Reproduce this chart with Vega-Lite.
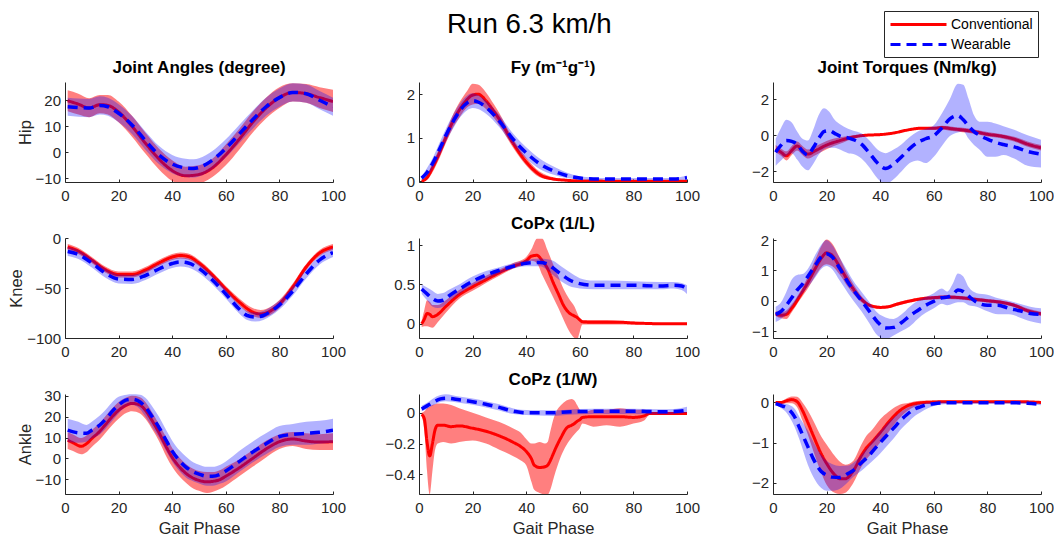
{
"$schema":"https://vega.github.io/schema/vega-lite/v6.json",
"background":"#ffffff",
"padding":{"left":8,"top":10,"right":0,"bottom":0},
"bounds":"flush",
"datasets":{
"hipA":[
{"s":"Conventional","phase":1,"mean":19.8,"lo":15.8,"hi":23.8},
{"s":"Conventional","phase":5,"mean":18.5,"lo":14.5,"hi":22.5},
{"s":"Conventional","phase":9,"mean":17,"lo":13.5,"hi":20.8},
{"s":"Conventional","phase":13,"mean":18.3,"lo":15,"hi":22},
{"s":"Conventional","phase":16,"mean":18,"lo":14.5,"hi":22},
{"s":"Conventional","phase":20,"mean":15.5,"lo":11.5,"hi":19.5},
{"s":"Conventional","phase":25,"mean":10,"lo":6,"hi":14},
{"s":"Conventional","phase":30,"mean":3.5,"lo":-0.5,"hi":7.5},
{"s":"Conventional","phase":35,"mean":-2.5,"lo":-6.5,"hi":1.5},
{"s":"Conventional","phase":40,"mean":-7,"lo":-11,"hi":-3},
{"s":"Conventional","phase":45,"mean":-9,"lo":-12.5,"hi":-5.5},
{"s":"Conventional","phase":50,"mean":-8.5,"lo":-12,"hi":-5},
{"s":"Conventional","phase":55,"mean":-6,"lo":-9.5,"hi":-2.5},
{"s":"Conventional","phase":60,"mean":-1,"lo":-5,"hi":3},
{"s":"Conventional","phase":65,"mean":5,"lo":1,"hi":9},
{"s":"Conventional","phase":70,"mean":11.5,"lo":7.5,"hi":15.5},
{"s":"Conventional","phase":75,"mean":17,"lo":13,"hi":21},
{"s":"Conventional","phase":80,"mean":21,"lo":17,"hi":25},
{"s":"Conventional","phase":85,"mean":23,"lo":19.5,"hi":26.5},
{"s":"Conventional","phase":90,"mean":22.5,"lo":19,"hi":26.2},
{"s":"Conventional","phase":95,"mean":21,"lo":17,"hi":25},
{"s":"Conventional","phase":100,"mean":19.5,"lo":15.5,"hi":24},
{"s":"Wearable","phase":1,"mean":17.5,"lo":14,"hi":21},
{"s":"Wearable","phase":5,"mean":17.2,"lo":13.7,"hi":20.7},
{"s":"Wearable","phase":9,"mean":17,"lo":13.5,"hi":20.5},
{"s":"Wearable","phase":13,"mean":18,"lo":14.5,"hi":21.5},
{"s":"Wearable","phase":16,"mean":17.5,"lo":14,"hi":21},
{"s":"Wearable","phase":20,"mean":15,"lo":11.5,"hi":18.5},
{"s":"Wearable","phase":25,"mean":10.5,"lo":7,"hi":14},
{"s":"Wearable","phase":30,"mean":4.5,"lo":1,"hi":8},
{"s":"Wearable","phase":35,"mean":-1,"lo":-4.5,"hi":2.5},
{"s":"Wearable","phase":40,"mean":-4.5,"lo":-8,"hi":-1},
{"s":"Wearable","phase":45,"mean":-6,"lo":-9.5,"hi":-2.5},
{"s":"Wearable","phase":48,"mean":-6.2,"lo":-9.7,"hi":-2.7},
{"s":"Wearable","phase":50,"mean":-5.8,"lo":-9.3,"hi":-2.3},
{"s":"Wearable","phase":55,"mean":-3,"lo":-6.5,"hi":0.5},
{"s":"Wearable","phase":60,"mean":1.5,"lo":-2,"hi":5},
{"s":"Wearable","phase":65,"mean":7,"lo":3.5,"hi":10.5},
{"s":"Wearable","phase":70,"mean":12.5,"lo":9,"hi":16},
{"s":"Wearable","phase":75,"mean":17.5,"lo":14,"hi":21},
{"s":"Wearable","phase":80,"mean":21,"lo":17.5,"hi":24.5},
{"s":"Wearable","phase":85,"mean":23,"lo":19.5,"hi":26.5},
{"s":"Wearable","phase":90,"mean":22.5,"lo":19,"hi":26},
{"s":"Wearable","phase":95,"mean":20,"lo":16.5,"hi":23.5},
{"s":"Wearable","phase":100,"mean":17.5,"lo":14,"hi":21}
],
"fy":[
{"s":"Conventional","phase":1,"mean":0,"lo":-0.015,"hi":0.02},
{"s":"Conventional","phase":3,"mean":0.08,"lo":0.03,"hi":0.13},
{"s":"Conventional","phase":5,"mean":0.3,"lo":0.2,"hi":0.4},
{"s":"Conventional","phase":8,"mean":0.7,"lo":0.58,"hi":0.82},
{"s":"Conventional","phase":10,"mean":1,"lo":0.87,"hi":1.13},
{"s":"Conventional","phase":13,"mean":1.42,"lo":1.27,"hi":1.57},
{"s":"Conventional","phase":15,"mean":1.63,"lo":1.46,"hi":1.8},
{"s":"Conventional","phase":18,"mean":1.88,"lo":1.7,"hi":2.08},
{"s":"Conventional","phase":20,"mean":1.98,"lo":1.76,"hi":2.24},
{"s":"Conventional","phase":22,"mean":2,"lo":1.78,"hi":2.22},
{"s":"Conventional","phase":25,"mean":1.85,"lo":1.66,"hi":2.04},
{"s":"Conventional","phase":28,"mean":1.6,"lo":1.45,"hi":1.76},
{"s":"Conventional","phase":30,"mean":1.42,"lo":1.28,"hi":1.56},
{"s":"Conventional","phase":35,"mean":0.88,"lo":0.78,"hi":0.98},
{"s":"Conventional","phase":40,"mean":0.44,"lo":0.36,"hi":0.54},
{"s":"Conventional","phase":45,"mean":0.15,"lo":0.09,"hi":0.22},
{"s":"Conventional","phase":50,"mean":0.05,"lo":0.02,"hi":0.09},
{"s":"Conventional","phase":55,"mean":0.02,"lo":0,"hi":0.04},
{"s":"Conventional","phase":60,"mean":0.005,"lo":-0.005,"hi":0.015},
{"s":"Conventional","phase":70,"mean":0,"lo":-0.01,"hi":0.01},
{"s":"Conventional","phase":80,"mean":0,"lo":-0.01,"hi":0.01},
{"s":"Conventional","phase":90,"mean":0,"lo":-0.01,"hi":0.01},
{"s":"Conventional","phase":100,"mean":0,"lo":-0.01,"hi":0.01},
{"s":"Wearable","phase":1,"mean":0.07,"lo":0.03,"hi":0.11},
{"s":"Wearable","phase":3,"mean":0.2,"lo":0.12,"hi":0.3},
{"s":"Wearable","phase":5,"mean":0.4,"lo":0.28,"hi":0.52},
{"s":"Wearable","phase":8,"mean":0.78,"lo":0.63,"hi":0.93},
{"s":"Wearable","phase":10,"mean":1.05,"lo":0.9,"hi":1.2},
{"s":"Wearable","phase":13,"mean":1.4,"lo":1.24,"hi":1.56},
{"s":"Wearable","phase":15,"mean":1.6,"lo":1.44,"hi":1.76},
{"s":"Wearable","phase":18,"mean":1.8,"lo":1.63,"hi":1.97},
{"s":"Wearable","phase":20,"mean":1.85,"lo":1.68,"hi":2.02},
{"s":"Wearable","phase":22,"mean":1.82,"lo":1.66,"hi":1.98},
{"s":"Wearable","phase":25,"mean":1.7,"lo":1.55,"hi":1.85},
{"s":"Wearable","phase":30,"mean":1.38,"lo":1.24,"hi":1.52},
{"s":"Wearable","phase":35,"mean":0.97,"lo":0.84,"hi":1.1},
{"s":"Wearable","phase":40,"mean":0.65,"lo":0.52,"hi":0.78},
{"s":"Wearable","phase":45,"mean":0.4,"lo":0.28,"hi":0.52},
{"s":"Wearable","phase":50,"mean":0.24,"lo":0.15,"hi":0.34},
{"s":"Wearable","phase":55,"mean":0.13,"lo":0.07,"hi":0.2},
{"s":"Wearable","phase":60,"mean":0.07,"lo":0.04,"hi":0.11},
{"s":"Wearable","phase":65,"mean":0.05,"lo":0.03,"hi":0.08},
{"s":"Wearable","phase":70,"mean":0.05,"lo":0.03,"hi":0.07},
{"s":"Wearable","phase":80,"mean":0.05,"lo":0.03,"hi":0.07},
{"s":"Wearable","phase":90,"mean":0.05,"lo":0.03,"hi":0.07},
{"s":"Wearable","phase":95,"mean":0.05,"lo":0.03,"hi":0.07},
{"s":"Wearable","phase":98,"mean":0.06,"lo":0.03,"hi":0.1},
{"s":"Wearable","phase":100,"mean":0.08,"lo":0.04,"hi":0.13}
],
"hipT":[
{"s":"Conventional","phase":1,"mean":-0.75,"lo":-0.95,"hi":-0.55},
{"s":"Conventional","phase":3,"mean":-0.95,"lo":-1.15,"hi":-0.75},
{"s":"Conventional","phase":5,"mean":-1.15,"lo":-1.4,"hi":-0.9},
{"s":"Conventional","phase":7,"mean":-0.85,"lo":-1.1,"hi":-0.6},
{"s":"Conventional","phase":9,"mean":-0.6,"lo":-0.85,"hi":-0.35},
{"s":"Conventional","phase":11,"mean":-0.85,"lo":-1.1,"hi":-0.6},
{"s":"Conventional","phase":13,"mean":-1.05,"lo":-1.3,"hi":-0.8},
{"s":"Conventional","phase":16,"mean":-0.85,"lo":-1.1,"hi":-0.6},
{"s":"Conventional","phase":20,"mean":-0.55,"lo":-0.78,"hi":-0.32},
{"s":"Conventional","phase":25,"mean":-0.3,"lo":-0.48,"hi":-0.12},
{"s":"Conventional","phase":30,"mean":-0.1,"lo":-0.2,"hi":0},
{"s":"Conventional","phase":35,"mean":0,"lo":-0.05,"hi":0.05},
{"s":"Conventional","phase":40,"mean":0.03,"lo":-0.02,"hi":0.08},
{"s":"Conventional","phase":45,"mean":0.12,"lo":0.07,"hi":0.17},
{"s":"Conventional","phase":50,"mean":0.28,"lo":0.23,"hi":0.33},
{"s":"Conventional","phase":55,"mean":0.38,"lo":0.32,"hi":0.44},
{"s":"Conventional","phase":60,"mean":0.38,"lo":0.3,"hi":0.46},
{"s":"Conventional","phase":63,"mean":0.42,"lo":0.32,"hi":0.52},
{"s":"Conventional","phase":67,"mean":0.35,"lo":0.23,"hi":0.47},
{"s":"Conventional","phase":70,"mean":0.3,"lo":0.18,"hi":0.42},
{"s":"Conventional","phase":75,"mean":0.2,"lo":0.08,"hi":0.32},
{"s":"Conventional","phase":80,"mean":0.05,"lo":-0.07,"hi":0.17},
{"s":"Conventional","phase":85,"mean":-0.05,"lo":-0.17,"hi":0.07},
{"s":"Conventional","phase":90,"mean":-0.22,"lo":-0.35,"hi":-0.09},
{"s":"Conventional","phase":95,"mean":-0.5,"lo":-0.65,"hi":-0.35},
{"s":"Conventional","phase":100,"mean":-0.7,"lo":-0.85,"hi":-0.55},
{"s":"Wearable","phase":1,"mean":-0.95,"lo":-1.7,"hi":-0.2},
{"s":"Wearable","phase":3,"mean":-0.55,"lo":-1.4,"hi":0.4},
{"s":"Wearable","phase":5,"mean":-0.3,"lo":-1.15,"hi":0.85},
{"s":"Wearable","phase":7,"mean":-0.35,"lo":-1,"hi":0.7},
{"s":"Wearable","phase":9,"mean":-0.5,"lo":-1.35,"hi":0.2},
{"s":"Wearable","phase":11,"mean":-0.9,"lo":-1.75,"hi":-0.2},
{"s":"Wearable","phase":13,"mean":-1.1,"lo":-1.95,"hi":-0.3},
{"s":"Wearable","phase":15,"mean":-0.7,"lo":-1.6,"hi":0.3},
{"s":"Wearable","phase":17,"mean":-0.2,"lo":-1.1,"hi":1.1},
{"s":"Wearable","phase":19,"mean":0.2,"lo":-0.8,"hi":1.5},
{"s":"Wearable","phase":21,"mean":0.25,"lo":-0.7,"hi":1.3},
{"s":"Wearable","phase":23,"mean":0.1,"lo":-0.7,"hi":0.85},
{"s":"Wearable","phase":25,"mean":-0.05,"lo":-0.8,"hi":0.6},
{"s":"Wearable","phase":28,"mean":-0.15,"lo":-1,"hi":0.35},
{"s":"Wearable","phase":30,"mean":-0.25,"lo":-1.05,"hi":0.25},
{"s":"Wearable","phase":33,"mean":-0.5,"lo":-1.3,"hi":0.1},
{"s":"Wearable","phase":36,"mean":-1,"lo":-1.8,"hi":-0.3},
{"s":"Wearable","phase":39,"mean":-1.55,"lo":-2.4,"hi":-0.8},
{"s":"Wearable","phase":42,"mean":-1.85,"lo":-2.7,"hi":-1},
{"s":"Wearable","phase":45,"mean":-1.6,"lo":-2.45,"hi":-0.8},
{"s":"Wearable","phase":48,"mean":-1.2,"lo":-2,"hi":-0.5},
{"s":"Wearable","phase":51,"mean":-0.75,"lo":-1.55,"hi":-0.1},
{"s":"Wearable","phase":54,"mean":-0.4,"lo":-1.4,"hi":0.2},
{"s":"Wearable","phase":57,"mean":-0.2,"lo":-1.55,"hi":0.35},
{"s":"Wearable","phase":60,"mean":-0.03,"lo":-1.2,"hi":0.55},
{"s":"Wearable","phase":63,"mean":0.4,"lo":-0.6,"hi":1.2},
{"s":"Wearable","phase":66,"mean":0.9,"lo":-0.05,"hi":2},
{"s":"Wearable","phase":69,"mean":1.08,"lo":0.15,"hi":2.85},
{"s":"Wearable","phase":71,"mean":0.85,"lo":0.2,"hi":2.8},
{"s":"Wearable","phase":73,"mean":0.5,"lo":-0.2,"hi":2},
{"s":"Wearable","phase":75,"mean":0.2,"lo":-0.55,"hi":1.1},
{"s":"Wearable","phase":77,"mean":0,"lo":-0.8,"hi":0.75},
{"s":"Wearable","phase":80,"mean":-0.22,"lo":-1.2,"hi":0.75},
{"s":"Wearable","phase":83,"mean":-0.4,"lo":-1.2,"hi":0.65},
{"s":"Wearable","phase":86,"mean":-0.52,"lo":-1.1,"hi":0.5},
{"s":"Wearable","phase":90,"mean":-0.65,"lo":-1.3,"hi":0.3},
{"s":"Wearable","phase":95,"mean":-0.9,"lo":-1.7,"hi":0},
{"s":"Wearable","phase":100,"mean":-1.05,"lo":-1.8,"hi":-0.25}
],
"kneeA":[
{"s":"Conventional","phase":1,"mean":-9,"lo":-12,"hi":-6},
{"s":"Conventional","phase":5,"mean":-13,"lo":-16,"hi":-10},
{"s":"Conventional","phase":10,"mean":-22,"lo":-25,"hi":-19},
{"s":"Conventional","phase":15,"mean":-31.5,"lo":-34.5,"hi":-28.5},
{"s":"Conventional","phase":20,"mean":-36.5,"lo":-39.5,"hi":-33.5},
{"s":"Conventional","phase":25,"mean":-36.5,"lo":-39.5,"hi":-33.5},
{"s":"Conventional","phase":30,"mean":-32,"lo":-35,"hi":-29},
{"s":"Conventional","phase":35,"mean":-25,"lo":-28,"hi":-22},
{"s":"Conventional","phase":40,"mean":-19,"lo":-22,"hi":-16},
{"s":"Conventional","phase":43,"mean":-17.5,"lo":-20.5,"hi":-14.5},
{"s":"Conventional","phase":46,"mean":-18.5,"lo":-21.5,"hi":-15.5},
{"s":"Conventional","phase":50,"mean":-25,"lo":-28,"hi":-22},
{"s":"Conventional","phase":55,"mean":-37,"lo":-40,"hi":-34},
{"s":"Conventional","phase":60,"mean":-51,"lo":-54,"hi":-48},
{"s":"Conventional","phase":65,"mean":-64,"lo":-67.5,"hi":-60.5},
{"s":"Conventional","phase":70,"mean":-74,"lo":-78,"hi":-70},
{"s":"Conventional","phase":73,"mean":-76,"lo":-80,"hi":-72},
{"s":"Conventional","phase":75,"mean":-75,"lo":-79,"hi":-71},
{"s":"Conventional","phase":80,"mean":-66,"lo":-70,"hi":-62},
{"s":"Conventional","phase":85,"mean":-49,"lo":-52.5,"hi":-45.5},
{"s":"Conventional","phase":90,"mean":-29,"lo":-32,"hi":-26},
{"s":"Conventional","phase":95,"mean":-15,"lo":-18,"hi":-12},
{"s":"Conventional","phase":100,"mean":-9,"lo":-12,"hi":-6},
{"s":"Wearable","phase":1,"mean":-13.5,"lo":-18,"hi":-9},
{"s":"Wearable","phase":5,"mean":-16.5,"lo":-21,"hi":-12},
{"s":"Wearable","phase":10,"mean":-25,"lo":-29.5,"hi":-20.5},
{"s":"Wearable","phase":15,"mean":-35,"lo":-39.5,"hi":-30.5},
{"s":"Wearable","phase":20,"mean":-41,"lo":-45.5,"hi":-36.5},
{"s":"Wearable","phase":25,"mean":-41.5,"lo":-46,"hi":-37},
{"s":"Wearable","phase":30,"mean":-37.5,"lo":-42,"hi":-33},
{"s":"Wearable","phase":35,"mean":-31,"lo":-35.5,"hi":-26.5},
{"s":"Wearable","phase":40,"mean":-25.5,"lo":-30,"hi":-21},
{"s":"Wearable","phase":43,"mean":-24,"lo":-28.5,"hi":-19.5},
{"s":"Wearable","phase":46,"mean":-25,"lo":-29.5,"hi":-20.5},
{"s":"Wearable","phase":50,"mean":-30.5,"lo":-35,"hi":-26},
{"s":"Wearable","phase":55,"mean":-42,"lo":-46.5,"hi":-37.5},
{"s":"Wearable","phase":60,"mean":-56,"lo":-60.5,"hi":-51.5},
{"s":"Wearable","phase":65,"mean":-71,"lo":-75.5,"hi":-66.5},
{"s":"Wearable","phase":68,"mean":-77.5,"lo":-82,"hi":-73},
{"s":"Wearable","phase":71,"mean":-79,"lo":-83.5,"hi":-74.5},
{"s":"Wearable","phase":74,"mean":-77.5,"lo":-82,"hi":-73},
{"s":"Wearable","phase":77,"mean":-73,"lo":-77.5,"hi":-68.5},
{"s":"Wearable","phase":80,"mean":-67,"lo":-71.5,"hi":-62.5},
{"s":"Wearable","phase":85,"mean":-53,"lo":-57.5,"hi":-48.5},
{"s":"Wearable","phase":90,"mean":-36,"lo":-40.5,"hi":-31.5},
{"s":"Wearable","phase":95,"mean":-22,"lo":-26.5,"hi":-17.5},
{"s":"Wearable","phase":100,"mean":-14.5,"lo":-19,"hi":-10}
],
"copx":[
{"s":"Conventional","phase":1,"mean":0,"lo":-0.04,"hi":0.04},
{"s":"Conventional","phase":2,"mean":0.06,"lo":-0.03,"hi":0.18},
{"s":"Conventional","phase":3,"mean":0.13,"lo":-0.03,"hi":0.3},
{"s":"Conventional","phase":4,"mean":0.12,"lo":-0.04,"hi":0.28},
{"s":"Conventional","phase":5,"mean":0.09,"lo":-0.05,"hi":0.24},
{"s":"Conventional","phase":7,"mean":0.12,"lo":0.02,"hi":0.24},
{"s":"Conventional","phase":10,"mean":0.22,"lo":0.14,"hi":0.3},
{"s":"Conventional","phase":15,"mean":0.37,"lo":0.32,"hi":0.43},
{"s":"Conventional","phase":20,"mean":0.47,"lo":0.42,"hi":0.52},
{"s":"Conventional","phase":25,"mean":0.56,"lo":0.52,"hi":0.61},
{"s":"Conventional","phase":30,"mean":0.65,"lo":0.61,"hi":0.69},
{"s":"Conventional","phase":35,"mean":0.73,"lo":0.7,"hi":0.77},
{"s":"Conventional","phase":40,"mean":0.8,"lo":0.76,"hi":0.85},
{"s":"Conventional","phase":42,"mean":0.86,"lo":0.8,"hi":0.95},
{"s":"Conventional","phase":44,"mean":0.87,"lo":0.77,"hi":1.08},
{"s":"Conventional","phase":46,"mean":0.8,"lo":0.62,"hi":1.08},
{"s":"Conventional","phase":48,"mean":0.7,"lo":0.48,"hi":0.93},
{"s":"Conventional","phase":50,"mean":0.53,"lo":0.34,"hi":0.76},
{"s":"Conventional","phase":52,"mean":0.38,"lo":0.2,"hi":0.6},
{"s":"Conventional","phase":54,"mean":0.23,"lo":0.05,"hi":0.44},
{"s":"Conventional","phase":56,"mean":0.14,"lo":-0.09,"hi":0.32},
{"s":"Conventional","phase":58,"mean":0.1,"lo":-0.18,"hi":0.22},
{"s":"Conventional","phase":59,"mean":0.08,"lo":-0.2,"hi":0.14},
{"s":"Conventional","phase":60,"mean":0.05,"lo":-0.1,"hi":0.07},
{"s":"Conventional","phase":61,"mean":0.025,"lo":-0.01,"hi":0.05},
{"s":"Conventional","phase":65,"mean":0.02,"lo":-0.01,"hi":0.05},
{"s":"Conventional","phase":70,"mean":0.02,"lo":-0.01,"hi":0.05},
{"s":"Conventional","phase":75,"mean":0.02,"lo":-0.01,"hi":0.04},
{"s":"Conventional","phase":80,"mean":0.01,"lo":-0.01,"hi":0.03},
{"s":"Conventional","phase":85,"mean":0.005,"lo":-0.01,"hi":0.02},
{"s":"Conventional","phase":90,"mean":0,"lo":-0.01,"hi":0.01},
{"s":"Conventional","phase":95,"mean":0,"lo":-0.01,"hi":0.01},
{"s":"Conventional","phase":100,"mean":0,"lo":-0.01,"hi":0.01},
{"s":"Wearable","phase":1,"mean":0.44,"lo":0.38,"hi":0.5},
{"s":"Wearable","phase":3,"mean":0.38,"lo":0.3,"hi":0.46},
{"s":"Wearable","phase":5,"mean":0.32,"lo":0.22,"hi":0.42},
{"s":"Wearable","phase":7,"mean":0.29,"lo":0.2,"hi":0.38},
{"s":"Wearable","phase":9,"mean":0.3,"lo":0.22,"hi":0.39},
{"s":"Wearable","phase":11,"mean":0.35,"lo":0.28,"hi":0.43},
{"s":"Wearable","phase":15,"mean":0.44,"lo":0.38,"hi":0.5},
{"s":"Wearable","phase":20,"mean":0.54,"lo":0.49,"hi":0.6},
{"s":"Wearable","phase":25,"mean":0.62,"lo":0.57,"hi":0.67},
{"s":"Wearable","phase":30,"mean":0.68,"lo":0.64,"hi":0.72},
{"s":"Wearable","phase":35,"mean":0.73,"lo":0.7,"hi":0.77},
{"s":"Wearable","phase":40,"mean":0.77,"lo":0.73,"hi":0.81},
{"s":"Wearable","phase":45,"mean":0.78,"lo":0.73,"hi":0.83},
{"s":"Wearable","phase":48,"mean":0.76,"lo":0.68,"hi":0.82},
{"s":"Wearable","phase":50,"mean":0.71,"lo":0.62,"hi":0.8},
{"s":"Wearable","phase":53,"mean":0.63,"lo":0.54,"hi":0.73},
{"s":"Wearable","phase":56,"mean":0.56,"lo":0.48,"hi":0.66},
{"s":"Wearable","phase":60,"mean":0.51,"lo":0.45,"hi":0.58},
{"s":"Wearable","phase":65,"mean":0.49,"lo":0.44,"hi":0.55},
{"s":"Wearable","phase":70,"mean":0.49,"lo":0.44,"hi":0.55},
{"s":"Wearable","phase":80,"mean":0.49,"lo":0.44,"hi":0.54},
{"s":"Wearable","phase":90,"mean":0.48,"lo":0.44,"hi":0.53},
{"s":"Wearable","phase":95,"mean":0.49,"lo":0.45,"hi":0.53},
{"s":"Wearable","phase":98,"mean":0.48,"lo":0.43,"hi":0.52},
{"s":"Wearable","phase":100,"mean":0.44,"lo":0.38,"hi":0.49}
],
"kneeT":[
{"s":"Conventional","phase":1,"mean":-0.43,"lo":-0.5,"hi":-0.35},
{"s":"Conventional","phase":3,"mean":-0.48,"lo":-0.58,"hi":-0.38},
{"s":"Conventional","phase":5,"mean":-0.45,"lo":-0.6,"hi":-0.32},
{"s":"Conventional","phase":7,"mean":-0.25,"lo":-0.38,"hi":-0.12},
{"s":"Conventional","phase":10,"mean":0.15,"lo":0.02,"hi":0.28},
{"s":"Conventional","phase":13,"mean":0.6,"lo":0.4,"hi":0.8},
{"s":"Conventional","phase":16,"mean":1.1,"lo":0.85,"hi":1.4},
{"s":"Conventional","phase":18,"mean":1.4,"lo":1.1,"hi":1.8},
{"s":"Conventional","phase":20,"mean":1.58,"lo":1.2,"hi":2.02},
{"s":"Conventional","phase":22,"mean":1.5,"lo":1.15,"hi":1.9},
{"s":"Conventional","phase":25,"mean":1.1,"lo":0.85,"hi":1.4},
{"s":"Conventional","phase":28,"mean":0.65,"lo":0.45,"hi":0.85},
{"s":"Conventional","phase":30,"mean":0.38,"lo":0.22,"hi":0.54},
{"s":"Conventional","phase":33,"mean":0.05,"lo":-0.05,"hi":0.15},
{"s":"Conventional","phase":35,"mean":-0.1,"lo":-0.17,"hi":-0.03},
{"s":"Conventional","phase":38,"mean":-0.2,"lo":-0.25,"hi":-0.15},
{"s":"Conventional","phase":40,"mean":-0.22,"lo":-0.27,"hi":-0.17},
{"s":"Conventional","phase":43,"mean":-0.2,"lo":-0.25,"hi":-0.15},
{"s":"Conventional","phase":46,"mean":-0.12,"lo":-0.17,"hi":-0.07},
{"s":"Conventional","phase":50,"mean":-0.03,"lo":-0.08,"hi":0.02},
{"s":"Conventional","phase":55,"mean":0.06,"lo":0.01,"hi":0.11},
{"s":"Conventional","phase":60,"mean":0.1,"lo":0.04,"hi":0.16},
{"s":"Conventional","phase":65,"mean":0.12,"lo":0.06,"hi":0.18},
{"s":"Conventional","phase":70,"mean":0.1,"lo":0.04,"hi":0.16},
{"s":"Conventional","phase":75,"mean":0.05,"lo":-0.01,"hi":0.11},
{"s":"Conventional","phase":80,"mean":0,"lo":-0.06,"hi":0.06},
{"s":"Conventional","phase":85,"mean":-0.05,"lo":-0.11,"hi":0.01},
{"s":"Conventional","phase":90,"mean":-0.15,"lo":-0.21,"hi":-0.09},
{"s":"Conventional","phase":95,"mean":-0.33,"lo":-0.4,"hi":-0.26},
{"s":"Conventional","phase":100,"mean":-0.43,"lo":-0.5,"hi":-0.36},
{"s":"Wearable","phase":1,"mean":-0.45,"lo":-0.7,"hi":-0.2},
{"s":"Wearable","phase":3,"mean":-0.35,"lo":-0.6,"hi":-0.05},
{"s":"Wearable","phase":5,"mean":-0.15,"lo":-0.45,"hi":0.3},
{"s":"Wearable","phase":7,"mean":0.1,"lo":-0.2,"hi":0.7},
{"s":"Wearable","phase":9,"mean":0.35,"lo":0.05,"hi":0.85},
{"s":"Wearable","phase":11,"mean":0.55,"lo":0.25,"hi":0.88},
{"s":"Wearable","phase":13,"mean":0.8,"lo":0.45,"hi":1.05},
{"s":"Wearable","phase":16,"mean":1.2,"lo":0.8,"hi":1.55},
{"s":"Wearable","phase":18,"mean":1.45,"lo":1.05,"hi":1.85},
{"s":"Wearable","phase":20,"mean":1.55,"lo":1.15,"hi":2},
{"s":"Wearable","phase":22,"mean":1.45,"lo":1.05,"hi":1.85},
{"s":"Wearable","phase":25,"mean":1.05,"lo":0.65,"hi":1.4},
{"s":"Wearable","phase":28,"mean":0.6,"lo":0.25,"hi":0.95},
{"s":"Wearable","phase":30,"mean":0.35,"lo":0,"hi":0.65},
{"s":"Wearable","phase":33,"mean":0,"lo":-0.35,"hi":0.3},
{"s":"Wearable","phase":36,"mean":-0.35,"lo":-0.75,"hi":-0.05},
{"s":"Wearable","phase":39,"mean":-0.7,"lo":-1.15,"hi":-0.4},
{"s":"Wearable","phase":42,"mean":-0.9,"lo":-1.27,"hi":-0.55},
{"s":"Wearable","phase":45,"mean":-0.88,"lo":-1.15,"hi":-0.6},
{"s":"Wearable","phase":48,"mean":-0.72,"lo":-1,"hi":-0.45},
{"s":"Wearable","phase":51,"mean":-0.5,"lo":-0.85,"hi":-0.2},
{"s":"Wearable","phase":54,"mean":-0.32,"lo":-0.6,"hi":0},
{"s":"Wearable","phase":57,"mean":-0.15,"lo":-0.4,"hi":0.12},
{"s":"Wearable","phase":60,"mean":-0.02,"lo":-0.25,"hi":0.25},
{"s":"Wearable","phase":63,"mean":0.1,"lo":-0.1,"hi":0.4},
{"s":"Wearable","phase":65,"mean":0.12,"lo":-0.15,"hi":0.3},
{"s":"Wearable","phase":67,"mean":0.2,"lo":-0.1,"hi":0.55},
{"s":"Wearable","phase":69,"mean":0.35,"lo":-0.05,"hi":0.9},
{"s":"Wearable","phase":71,"mean":0.3,"lo":-0.05,"hi":0.8},
{"s":"Wearable","phase":73,"mean":0.15,"lo":-0.15,"hi":0.45},
{"s":"Wearable","phase":76,"mean":-0.05,"lo":-0.2,"hi":0.25},
{"s":"Wearable","phase":80,"mean":-0.15,"lo":-0.35,"hi":0.2},
{"s":"Wearable","phase":84,"mean":-0.15,"lo":-0.45,"hi":0.08},
{"s":"Wearable","phase":88,"mean":-0.25,"lo":-0.45,"hi":0},
{"s":"Wearable","phase":92,"mean":-0.33,"lo":-0.55,"hi":-0.1},
{"s":"Wearable","phase":96,"mean":-0.42,"lo":-0.68,"hi":-0.2},
{"s":"Wearable","phase":100,"mean":-0.45,"lo":-0.75,"hi":-0.25}
],
"ankA":[
{"s":"Conventional","phase":1,"mean":8.7,"lo":4.5,"hi":12.5},
{"s":"Conventional","phase":3,"mean":7.5,"lo":3.5,"hi":11.5},
{"s":"Conventional","phase":6,"mean":5.8,"lo":2,"hi":9.8},
{"s":"Conventional","phase":8,"mean":7,"lo":3,"hi":11},
{"s":"Conventional","phase":10,"mean":9.5,"lo":5.5,"hi":13.5},
{"s":"Conventional","phase":13,"mean":13,"lo":9,"hi":17},
{"s":"Conventional","phase":15,"mean":16,"lo":12,"hi":20},
{"s":"Conventional","phase":18,"mean":20.5,"lo":16.5,"hi":24.5},
{"s":"Conventional","phase":20,"mean":23,"lo":19,"hi":27},
{"s":"Conventional","phase":23,"mean":25.5,"lo":21.8,"hi":29.3},
{"s":"Conventional","phase":25,"mean":26.3,"lo":22.5,"hi":30},
{"s":"Conventional","phase":28,"mean":25.5,"lo":21.5,"hi":29.3},
{"s":"Conventional","phase":30,"mean":23,"lo":19,"hi":27},
{"s":"Conventional","phase":33,"mean":17,"lo":13,"hi":21},
{"s":"Conventional","phase":35,"mean":12.5,"lo":8.5,"hi":16.5},
{"s":"Conventional","phase":38,"mean":5,"lo":0.5,"hi":9.5},
{"s":"Conventional","phase":40,"mean":0.5,"lo":-4,"hi":5},
{"s":"Conventional","phase":43,"mean":-4.5,"lo":-9,"hi":0},
{"s":"Conventional","phase":45,"mean":-7,"lo":-11.5,"hi":-2.5},
{"s":"Conventional","phase":48,"mean":-9.5,"lo":-14.5,"hi":-5},
{"s":"Conventional","phase":50,"mean":-10.5,"lo":-15.5,"hi":-6},
{"s":"Conventional","phase":53,"mean":-11.2,"lo":-16.5,"hi":-6.5},
{"s":"Conventional","phase":55,"mean":-11,"lo":-16,"hi":-6.5},
{"s":"Conventional","phase":58,"mean":-10,"lo":-14.5,"hi":-5.5},
{"s":"Conventional","phase":60,"mean":-8.5,"lo":-13,"hi":-4},
{"s":"Conventional","phase":65,"mean":-4.5,"lo":-8.5,"hi":-0.5},
{"s":"Conventional","phase":70,"mean":0,"lo":-4,"hi":4},
{"s":"Conventional","phase":75,"mean":4.5,"lo":0.5,"hi":8.5},
{"s":"Conventional","phase":80,"mean":8,"lo":4.5,"hi":11.5},
{"s":"Conventional","phase":85,"mean":9.3,"lo":6,"hi":12.6},
{"s":"Conventional","phase":90,"mean":8.3,"lo":4.5,"hi":12},
{"s":"Conventional","phase":95,"mean":7.8,"lo":4,"hi":11.6},
{"s":"Conventional","phase":100,"mean":8,"lo":4,"hi":12},
{"s":"Wearable","phase":1,"mean":13.5,"lo":8,"hi":19},
{"s":"Wearable","phase":5,"mean":12.2,"lo":7.5,"hi":17.5},
{"s":"Wearable","phase":8,"mean":12,"lo":8,"hi":16},
{"s":"Wearable","phase":10,"mean":13.5,"lo":9.5,"hi":17.5},
{"s":"Wearable","phase":13,"mean":16,"lo":11.5,"hi":20.5},
{"s":"Wearable","phase":15,"mean":18.5,"lo":14,"hi":23},
{"s":"Wearable","phase":18,"mean":23,"lo":18.5,"hi":27.5},
{"s":"Wearable","phase":20,"mean":25.5,"lo":21.5,"hi":29.5},
{"s":"Wearable","phase":23,"mean":28,"lo":25,"hi":30.5},
{"s":"Wearable","phase":25,"mean":28.3,"lo":25.5,"hi":30.7},
{"s":"Wearable","phase":28,"mean":27,"lo":23.5,"hi":30.5},
{"s":"Wearable","phase":30,"mean":24.5,"lo":20,"hi":29},
{"s":"Wearable","phase":33,"mean":19,"lo":14,"hi":24},
{"s":"Wearable","phase":35,"mean":15,"lo":10,"hi":20},
{"s":"Wearable","phase":38,"mean":8,"lo":3,"hi":13},
{"s":"Wearable","phase":40,"mean":3.5,"lo":-1.5,"hi":8.5},
{"s":"Wearable","phase":43,"mean":-1.5,"lo":-6.5,"hi":3.5},
{"s":"Wearable","phase":45,"mean":-4,"lo":-9,"hi":1},
{"s":"Wearable","phase":48,"mean":-6.5,"lo":-11,"hi":-2},
{"s":"Wearable","phase":50,"mean":-7.5,"lo":-12,"hi":-3},
{"s":"Wearable","phase":53,"mean":-8.5,"lo":-13,"hi":-4},
{"s":"Wearable","phase":55,"mean":-8.5,"lo":-13,"hi":-4},
{"s":"Wearable","phase":58,"mean":-7.5,"lo":-12,"hi":-3},
{"s":"Wearable","phase":60,"mean":-6,"lo":-11,"hi":-1.5},
{"s":"Wearable","phase":65,"mean":-1.5,"lo":-6.5,"hi":3.5},
{"s":"Wearable","phase":70,"mean":3,"lo":-2,"hi":8},
{"s":"Wearable","phase":75,"mean":7,"lo":2,"hi":12},
{"s":"Wearable","phase":80,"mean":10.5,"lo":5.5,"hi":15.5},
{"s":"Wearable","phase":85,"mean":11.5,"lo":6.5,"hi":16.5},
{"s":"Wearable","phase":90,"mean":12,"lo":6.5,"hi":17.5},
{"s":"Wearable","phase":95,"mean":12.5,"lo":7,"hi":18},
{"s":"Wearable","phase":100,"mean":13.5,"lo":7.5,"hi":19}
],
"copz":[
{"s":"Conventional","phase":1,"mean":-0.01,"lo":-0.02,"hi":0},
{"s":"Conventional","phase":2,"mean":-0.04,"lo":-0.12,"hi":0.01},
{"s":"Conventional","phase":3,"mean":-0.19,"lo":-0.38,"hi":0.03},
{"s":"Conventional","phase":4,"mean":-0.28,"lo":-0.53,"hi":0.04},
{"s":"Conventional","phase":5,"mean":-0.2,"lo":-0.38,"hi":0.05},
{"s":"Conventional","phase":6,"mean":-0.11,"lo":-0.24,"hi":0.055},
{"s":"Conventional","phase":7,"mean":-0.08,"lo":-0.2,"hi":0.06},
{"s":"Conventional","phase":9,"mean":-0.08,"lo":-0.19,"hi":0.06},
{"s":"Conventional","phase":12,"mean":-0.09,"lo":-0.2,"hi":0.05},
{"s":"Conventional","phase":15,"mean":-0.085,"lo":-0.19,"hi":0.03},
{"s":"Conventional","phase":20,"mean":-0.1,"lo":-0.18,"hi":0},
{"s":"Conventional","phase":25,"mean":-0.12,"lo":-0.2,"hi":-0.03},
{"s":"Conventional","phase":30,"mean":-0.15,"lo":-0.24,"hi":-0.06},
{"s":"Conventional","phase":35,"mean":-0.19,"lo":-0.28,"hi":-0.1},
{"s":"Conventional","phase":38,"mean":-0.22,"lo":-0.31,"hi":-0.13},
{"s":"Conventional","phase":40,"mean":-0.25,"lo":-0.34,"hi":-0.17},
{"s":"Conventional","phase":42,"mean":-0.3,"lo":-0.45,"hi":-0.2},
{"s":"Conventional","phase":43,"mean":-0.34,"lo":-0.5,"hi":-0.2},
{"s":"Conventional","phase":45,"mean":-0.355,"lo":-0.52,"hi":-0.19},
{"s":"Conventional","phase":47,"mean":-0.35,"lo":-0.53,"hi":-0.2},
{"s":"Conventional","phase":48,"mean":-0.34,"lo":-0.53,"hi":-0.19},
{"s":"Conventional","phase":49,"mean":-0.31,"lo":-0.5,"hi":-0.12},
{"s":"Conventional","phase":50,"mean":-0.27,"lo":-0.44,"hi":-0.05},
{"s":"Conventional","phase":51,"mean":-0.23,"lo":-0.38,"hi":0},
{"s":"Conventional","phase":53,"mean":-0.16,"lo":-0.28,"hi":0.05},
{"s":"Conventional","phase":55,"mean":-0.1,"lo":-0.21,"hi":0.08},
{"s":"Conventional","phase":57,"mean":-0.08,"lo":-0.16,"hi":0.09},
{"s":"Conventional","phase":58,"mean":-0.07,"lo":-0.14,"hi":0.08},
{"s":"Conventional","phase":59,"mean":-0.055,"lo":-0.12,"hi":0.05},
{"s":"Conventional","phase":60,"mean":-0.045,"lo":-0.1,"hi":0.02},
{"s":"Conventional","phase":61,"mean":-0.03,"lo":-0.07,"hi":0},
{"s":"Conventional","phase":65,"mean":-0.025,"lo":-0.09,"hi":0.02},
{"s":"Conventional","phase":70,"mean":-0.025,"lo":-0.08,"hi":0.02},
{"s":"Conventional","phase":75,"mean":-0.025,"lo":-0.09,"hi":0.03},
{"s":"Conventional","phase":80,"mean":-0.03,"lo":-0.07,"hi":0.02},
{"s":"Conventional","phase":84,"mean":-0.02,"lo":-0.05,"hi":0.02},
{"s":"Conventional","phase":86,"mean":-0.005,"lo":-0.015,"hi":0},
{"s":"Conventional","phase":90,"mean":-0.005,"lo":-0.01,"hi":0},
{"s":"Conventional","phase":100,"mean":-0.005,"lo":-0.015,"hi":0},
{"s":"Wearable","phase":1,"mean":0.025,"lo":0.01,"hi":0.045},
{"s":"Wearable","phase":3,"mean":0.045,"lo":0.025,"hi":0.065},
{"s":"Wearable","phase":5,"mean":0.065,"lo":0.045,"hi":0.09},
{"s":"Wearable","phase":8,"mean":0.09,"lo":0.07,"hi":0.115},
{"s":"Wearable","phase":10,"mean":0.095,"lo":0.075,"hi":0.12},
{"s":"Wearable","phase":15,"mean":0.085,"lo":0.065,"hi":0.105},
{"s":"Wearable","phase":20,"mean":0.072,"lo":0.052,"hi":0.092},
{"s":"Wearable","phase":25,"mean":0.055,"lo":0.035,"hi":0.075},
{"s":"Wearable","phase":30,"mean":0.035,"lo":0.015,"hi":0.055},
{"s":"Wearable","phase":33,"mean":0.02,"lo":0,"hi":0.04},
{"s":"Wearable","phase":36,"mean":0.008,"lo":-0.01,"hi":0.025},
{"s":"Wearable","phase":40,"mean":0,"lo":-0.015,"hi":0.018},
{"s":"Wearable","phase":45,"mean":0,"lo":-0.018,"hi":0.016},
{"s":"Wearable","phase":50,"mean":0,"lo":-0.02,"hi":0.016},
{"s":"Wearable","phase":55,"mean":0.005,"lo":-0.015,"hi":0.02},
{"s":"Wearable","phase":60,"mean":0.008,"lo":-0.01,"hi":0.025},
{"s":"Wearable","phase":70,"mean":0.01,"lo":-0.008,"hi":0.027},
{"s":"Wearable","phase":80,"mean":0.01,"lo":-0.008,"hi":0.027},
{"s":"Wearable","phase":90,"mean":0.007,"lo":-0.01,"hi":0.023},
{"s":"Wearable","phase":95,"mean":0.008,"lo":-0.008,"hi":0.025},
{"s":"Wearable","phase":100,"mean":0.015,"lo":0,"hi":0.04}
],
"ankT":[
{"s":"Conventional","phase":1,"mean":0,"lo":-0.02,"hi":0.02},
{"s":"Conventional","phase":3,"mean":0,"lo":-0.03,"hi":0.03},
{"s":"Conventional","phase":5,"mean":0.04,"lo":-0.02,"hi":0.1},
{"s":"Conventional","phase":7,"mean":0.07,"lo":-0.02,"hi":0.15},
{"s":"Conventional","phase":9,"mean":0.02,"lo":-0.12,"hi":0.14},
{"s":"Conventional","phase":11,"mean":-0.2,"lo":-0.45,"hi":0},
{"s":"Conventional","phase":13,"mean":-0.5,"lo":-0.8,"hi":-0.2},
{"s":"Conventional","phase":15,"mean":-0.82,"lo":-1.2,"hi":-0.45},
{"s":"Conventional","phase":18,"mean":-1.28,"lo":-1.75,"hi":-0.85},
{"s":"Conventional","phase":20,"mean":-1.52,"lo":-2.05,"hi":-1.05},
{"s":"Conventional","phase":23,"mean":-1.8,"lo":-2.25,"hi":-1.33},
{"s":"Conventional","phase":25,"mean":-1.9,"lo":-2.28,"hi":-1.48},
{"s":"Conventional","phase":27,"mean":-1.9,"lo":-2.25,"hi":-1.55},
{"s":"Conventional","phase":30,"mean":-1.7,"lo":-2,"hi":-1.45},
{"s":"Conventional","phase":33,"mean":-1.32,"lo":-1.6,"hi":-1.05},
{"s":"Conventional","phase":35,"mean":-1.12,"lo":-1.4,"hi":-0.82},
{"s":"Conventional","phase":37,"mean":-0.98,"lo":-1.25,"hi":-0.68},
{"s":"Conventional","phase":40,"mean":-0.75,"lo":-1,"hi":-0.42},
{"s":"Conventional","phase":43,"mean":-0.5,"lo":-0.75,"hi":-0.24},
{"s":"Conventional","phase":45,"mean":-0.35,"lo":-0.57,"hi":-0.14},
{"s":"Conventional","phase":48,"mean":-0.17,"lo":-0.34,"hi":-0.04},
{"s":"Conventional","phase":50,"mean":-0.09,"lo":-0.22,"hi":-0.02},
{"s":"Conventional","phase":53,"mean":-0.03,"lo":-0.1,"hi":0.03},
{"s":"Conventional","phase":55,"mean":-0.01,"lo":-0.06,"hi":0.04},
{"s":"Conventional","phase":60,"mean":0.01,"lo":-0.02,"hi":0.05},
{"s":"Conventional","phase":65,"mean":0.02,"lo":-0.01,"hi":0.05},
{"s":"Conventional","phase":70,"mean":0.02,"lo":0,"hi":0.04},
{"s":"Conventional","phase":80,"mean":0.02,"lo":0,"hi":0.04},
{"s":"Conventional","phase":90,"mean":0.02,"lo":0,"hi":0.04},
{"s":"Conventional","phase":95,"mean":0.015,"lo":-0.01,"hi":0.03},
{"s":"Conventional","phase":100,"mean":0,"lo":-0.02,"hi":0.02},
{"s":"Wearable","phase":1,"mean":-0.03,"lo":-0.06,"hi":0},
{"s":"Wearable","phase":3,"mean":-0.08,"lo":-0.14,"hi":-0.02},
{"s":"Wearable","phase":5,"mean":-0.13,"lo":-0.25,"hi":-0.04},
{"s":"Wearable","phase":8,"mean":-0.35,"lo":-0.6,"hi":-0.15},
{"s":"Wearable","phase":10,"mean":-0.65,"lo":-0.95,"hi":-0.38},
{"s":"Wearable","phase":13,"mean":-1.1,"lo":-1.55,"hi":-0.7},
{"s":"Wearable","phase":15,"mean":-1.4,"lo":-1.85,"hi":-0.97},
{"s":"Wearable","phase":18,"mean":-1.72,"lo":-2.13,"hi":-1.3},
{"s":"Wearable","phase":20,"mean":-1.81,"lo":-2.2,"hi":-1.45},
{"s":"Wearable","phase":22,"mean":-1.86,"lo":-2.2,"hi":-1.53},
{"s":"Wearable","phase":25,"mean":-1.87,"lo":-2.15,"hi":-1.58},
{"s":"Wearable","phase":28,"mean":-1.77,"lo":-1.98,"hi":-1.57},
{"s":"Wearable","phase":30,"mean":-1.69,"lo":-1.85,"hi":-1.5},
{"s":"Wearable","phase":33,"mean":-1.5,"lo":-1.7,"hi":-1.3},
{"s":"Wearable","phase":35,"mean":-1.38,"lo":-1.58,"hi":-1.15},
{"s":"Wearable","phase":38,"mean":-1.15,"lo":-1.4,"hi":-0.88},
{"s":"Wearable","phase":40,"mean":-1,"lo":-1.27,"hi":-0.72},
{"s":"Wearable","phase":43,"mean":-0.78,"lo":-1.05,"hi":-0.5},
{"s":"Wearable","phase":45,"mean":-0.64,"lo":-0.9,"hi":-0.38},
{"s":"Wearable","phase":48,"mean":-0.42,"lo":-0.65,"hi":-0.22},
{"s":"Wearable","phase":50,"mean":-0.3,"lo":-0.52,"hi":-0.14},
{"s":"Wearable","phase":53,"mean":-0.16,"lo":-0.33,"hi":-0.06},
{"s":"Wearable","phase":55,"mean":-0.11,"lo":-0.25,"hi":-0.03},
{"s":"Wearable","phase":58,"mean":-0.05,"lo":-0.14,"hi":0},
{"s":"Wearable","phase":60,"mean":-0.03,"lo":-0.09,"hi":0.01},
{"s":"Wearable","phase":65,"mean":-0.01,"lo":-0.04,"hi":0.02},
{"s":"Wearable","phase":70,"mean":-0.01,"lo":-0.03,"hi":0.01},
{"s":"Wearable","phase":80,"mean":-0.01,"lo":-0.03,"hi":0.01},
{"s":"Wearable","phase":90,"mean":-0.01,"lo":-0.03,"hi":0.01},
{"s":"Wearable","phase":95,"mean":-0.02,"lo":-0.04,"hi":0},
{"s":"Wearable","phase":100,"mean":-0.05,"lo":-0.07,"hi":-0.03}
]
},
"vconcat":[
{
"title":{"text":"Run 6.3 km/h","fontSize":27.7,"fontWeight":"normal","anchor":"start","frame":"group","dx":382,"offset":-1.7,"baseline":"alphabetic","color":"#000000"},
"columns":3,"spacing":{"row":56,"column":86},"bounds":"flush",
"concat":[
{"width":268,"height":100,"data":{"name":"hipA"},"title":"Joint Angles (degree)",
"encoding":{"x":{"field":"phase","type":"quantitative","scale":{"domain":[0,100],"nice":false},"axis":{"values":[0,20,40,60,80,100],"tickCount":20,"title":null,"labelExpr":"replace(format(datum.value, '~g'), '-', '−')"}}},
"layer":[
{"transform":[{"filter":"datum.s === 'Conventional'"}],"mark":{"type":"area","fill":"#ff0000","fillOpacity":0.5,"interpolate":"monotone","clip":true},"encoding":{"y":{"field":"lo","type":"quantitative","scale":{"domain":[-11.4,27],"nice":false,"zero":false},"axis":{"values":[-10,0,10,20],"tickCount":20,"title":"Hip","labelExpr":"replace(format(datum.value, '~g'), '-', '−')"}},"y2":{"field":"hi"}}},
{"transform":[{"filter":"datum.s === 'Conventional'"}],"mark":{"type":"line","strokeWidth":3,"interpolate":"monotone","clip":true},"encoding":{"y":{"field":"mean","type":"quantitative"},"color":{"field":"s","type":"nominal","title":null,"scale":{"domain":["Conventional","Wearable"],"range":["#ff0000","#0000ff"]},"legend":{"orient":"none","legendX":819,"legendY":-71}},"strokeDash":{"field":"s","type":"nominal","title":null,"scale":{"domain":["Conventional","Wearable"],"range":[[1,0],[10,6]]},"legend":{"orient":"none","legendX":819,"legendY":-71}}}},
{"transform":[{"filter":"datum.s === 'Wearable'"}],"mark":{"type":"area","fill":"#0000ff","fillOpacity":0.3,"interpolate":"monotone","clip":true},"encoding":{"y":{"field":"lo","type":"quantitative"},"y2":{"field":"hi"}}},
{"transform":[{"filter":"datum.s === 'Wearable'"}],"mark":{"type":"line","strokeWidth":3.5,"interpolate":"monotone","clip":true},"encoding":{"y":{"field":"mean","type":"quantitative"},"color":{"field":"s","type":"nominal","title":null,"scale":{"domain":["Conventional","Wearable"],"range":["#ff0000","#0000ff"]},"legend":{"orient":"none","legendX":819,"legendY":-71}},"strokeDash":{"field":"s","type":"nominal","title":null,"scale":{"domain":["Conventional","Wearable"],"range":[[1,0],[10,6]]},"legend":{"orient":"none","legendX":819,"legendY":-71}}}}
]},
{"width":268,"height":100,"data":{"name":"fy"},"title":"Fy (m⁻¹g⁻¹)",
"encoding":{"x":{"field":"phase","type":"quantitative","scale":{"domain":[0,100],"nice":false},"axis":{"values":[0,20,40,60,80,100],"tickCount":20,"title":null,"labelExpr":"replace(format(datum.value, '~g'), '-', '−')"}}},
"layer":[
{"transform":[{"filter":"datum.s === 'Conventional'"}],"mark":{"type":"area","fill":"#ff0000","fillOpacity":0.5,"interpolate":"monotone","clip":true},"encoding":{"y":{"field":"lo","type":"quantitative","scale":{"domain":[-0.02,2.28],"nice":false,"zero":false},"axis":{"values":[0,1,2],"tickCount":20,"title":null,"labelExpr":"replace(format(datum.value, '~g'), '-', '−')"}},"y2":{"field":"hi"}}},
{"transform":[{"filter":"datum.s === 'Conventional'"}],"mark":{"type":"line","strokeWidth":3,"interpolate":"monotone","clip":true},"encoding":{"y":{"field":"mean","type":"quantitative"},"color":{"field":"s","type":"nominal","title":null,"scale":{"domain":["Conventional","Wearable"],"range":["#ff0000","#0000ff"]},"legend":{"orient":"none","legendX":819,"legendY":-71}},"strokeDash":{"field":"s","type":"nominal","title":null,"scale":{"domain":["Conventional","Wearable"],"range":[[1,0],[10,6]]},"legend":{"orient":"none","legendX":819,"legendY":-71}}}},
{"transform":[{"filter":"datum.s === 'Wearable'"}],"mark":{"type":"area","fill":"#0000ff","fillOpacity":0.3,"interpolate":"monotone","clip":true},"encoding":{"y":{"field":"lo","type":"quantitative"},"y2":{"field":"hi"}}},
{"transform":[{"filter":"datum.s === 'Wearable'"}],"mark":{"type":"line","strokeWidth":3.5,"interpolate":"monotone","clip":true},"encoding":{"y":{"field":"mean","type":"quantitative"},"color":{"field":"s","type":"nominal","title":null,"scale":{"domain":["Conventional","Wearable"],"range":["#ff0000","#0000ff"]},"legend":{"orient":"none","legendX":819,"legendY":-71}},"strokeDash":{"field":"s","type":"nominal","title":null,"scale":{"domain":["Conventional","Wearable"],"range":[[1,0],[10,6]]},"legend":{"orient":"none","legendX":819,"legendY":-71}}}}
]},
{"width":268,"height":100,"data":{"name":"hipT"},"title":"Joint Torques (Nm/kg)",
"encoding":{"x":{"field":"phase","type":"quantitative","scale":{"domain":[0,100],"nice":false},"axis":{"values":[0,20,40,60,80,100],"tickCount":20,"title":null,"labelExpr":"replace(format(datum.value, '~g'), '-', '−')"}}},
"layer":[
{"transform":[{"filter":"datum.s === 'Conventional'"}],"mark":{"type":"area","fill":"#ff0000","fillOpacity":0.5,"interpolate":"monotone","clip":true},"encoding":{"y":{"field":"lo","type":"quantitative","scale":{"domain":[-2.6,2.95],"nice":false,"zero":false},"axis":{"values":[-2,0,2],"tickCount":20,"title":null,"labelExpr":"replace(format(datum.value, '~g'), '-', '−')"}},"y2":{"field":"hi"}}},
{"transform":[{"filter":"datum.s === 'Conventional'"}],"mark":{"type":"line","strokeWidth":3,"interpolate":"monotone","clip":true},"encoding":{"y":{"field":"mean","type":"quantitative"},"color":{"field":"s","type":"nominal","title":null,"scale":{"domain":["Conventional","Wearable"],"range":["#ff0000","#0000ff"]},"legend":{"orient":"none","legendX":819,"legendY":-71}},"strokeDash":{"field":"s","type":"nominal","title":null,"scale":{"domain":["Conventional","Wearable"],"range":[[1,0],[10,6]]},"legend":{"orient":"none","legendX":819,"legendY":-71}}}},
{"transform":[{"filter":"datum.s === 'Wearable'"}],"mark":{"type":"area","fill":"#0000ff","fillOpacity":0.3,"interpolate":"monotone","clip":true},"encoding":{"y":{"field":"lo","type":"quantitative"},"y2":{"field":"hi"}}},
{"transform":[{"filter":"datum.s === 'Wearable'"}],"mark":{"type":"line","strokeWidth":3.5,"interpolate":"monotone","clip":true},"encoding":{"y":{"field":"mean","type":"quantitative"},"color":{"field":"s","type":"nominal","title":null,"scale":{"domain":["Conventional","Wearable"],"range":["#ff0000","#0000ff"]},"legend":{"orient":"none","legendX":819,"legendY":-71}},"strokeDash":{"field":"s","type":"nominal","title":null,"scale":{"domain":["Conventional","Wearable"],"range":[[1,0],[10,6]]},"legend":{"orient":"none","legendX":819,"legendY":-71}}}}
]},
{"width":268,"height":100,"data":{"name":"kneeA"},
"encoding":{"x":{"field":"phase","type":"quantitative","scale":{"domain":[0,100],"nice":false},"axis":{"values":[0,20,40,60,80,100],"tickCount":20,"title":null,"labelExpr":"replace(format(datum.value, '~g'), '-', '−')"}}},
"layer":[
{"transform":[{"filter":"datum.s === 'Conventional'"}],"mark":{"type":"area","fill":"#ff0000","fillOpacity":0.5,"interpolate":"monotone","clip":true},"encoding":{"y":{"field":"lo","type":"quantitative","scale":{"domain":[-100,0],"nice":false,"zero":false},"axis":{"values":[-100,-50,0],"tickCount":20,"title":"Knee","labelExpr":"replace(format(datum.value, '~g'), '-', '−')"}},"y2":{"field":"hi"}}},
{"transform":[{"filter":"datum.s === 'Conventional'"}],"mark":{"type":"line","strokeWidth":3,"interpolate":"monotone","clip":true},"encoding":{"y":{"field":"mean","type":"quantitative"},"color":{"field":"s","type":"nominal","title":null,"scale":{"domain":["Conventional","Wearable"],"range":["#ff0000","#0000ff"]},"legend":{"orient":"none","legendX":819,"legendY":-71}},"strokeDash":{"field":"s","type":"nominal","title":null,"scale":{"domain":["Conventional","Wearable"],"range":[[1,0],[10,6]]},"legend":{"orient":"none","legendX":819,"legendY":-71}}}},
{"transform":[{"filter":"datum.s === 'Wearable'"}],"mark":{"type":"area","fill":"#0000ff","fillOpacity":0.3,"interpolate":"monotone","clip":true},"encoding":{"y":{"field":"lo","type":"quantitative"},"y2":{"field":"hi"}}},
{"transform":[{"filter":"datum.s === 'Wearable'"}],"mark":{"type":"line","strokeWidth":3.5,"interpolate":"monotone","clip":true},"encoding":{"y":{"field":"mean","type":"quantitative"},"color":{"field":"s","type":"nominal","title":null,"scale":{"domain":["Conventional","Wearable"],"range":["#ff0000","#0000ff"]},"legend":{"orient":"none","legendX":819,"legendY":-71}},"strokeDash":{"field":"s","type":"nominal","title":null,"scale":{"domain":["Conventional","Wearable"],"range":[[1,0],[10,6]]},"legend":{"orient":"none","legendX":819,"legendY":-71}}}}
]},
{"width":268,"height":100,"data":{"name":"copx"},"title":"CoPx (1/L)",
"encoding":{"x":{"field":"phase","type":"quantitative","scale":{"domain":[0,100],"nice":false},"axis":{"values":[0,20,40,60,80,100],"tickCount":20,"title":null,"labelExpr":"replace(format(datum.value, '~g'), '-', '−')"}}},
"layer":[
{"transform":[{"filter":"datum.s === 'Conventional'"}],"mark":{"type":"area","fill":"#ff0000","fillOpacity":0.5,"interpolate":"monotone","clip":true},"encoding":{"y":{"field":"lo","type":"quantitative","scale":{"domain":[-0.18,1.09],"nice":false,"zero":false},"axis":{"values":[0,0.5,1],"tickCount":20,"title":null,"labelExpr":"replace(format(datum.value, '~g'), '-', '−')"}},"y2":{"field":"hi"}}},
{"transform":[{"filter":"datum.s === 'Conventional'"}],"mark":{"type":"line","strokeWidth":3,"interpolate":"monotone","clip":true},"encoding":{"y":{"field":"mean","type":"quantitative"},"color":{"field":"s","type":"nominal","title":null,"scale":{"domain":["Conventional","Wearable"],"range":["#ff0000","#0000ff"]},"legend":{"orient":"none","legendX":819,"legendY":-71}},"strokeDash":{"field":"s","type":"nominal","title":null,"scale":{"domain":["Conventional","Wearable"],"range":[[1,0],[10,6]]},"legend":{"orient":"none","legendX":819,"legendY":-71}}}},
{"transform":[{"filter":"datum.s === 'Wearable'"}],"mark":{"type":"area","fill":"#0000ff","fillOpacity":0.3,"interpolate":"monotone","clip":true},"encoding":{"y":{"field":"lo","type":"quantitative"},"y2":{"field":"hi"}}},
{"transform":[{"filter":"datum.s === 'Wearable'"}],"mark":{"type":"line","strokeWidth":3.5,"interpolate":"monotone","clip":true},"encoding":{"y":{"field":"mean","type":"quantitative"},"color":{"field":"s","type":"nominal","title":null,"scale":{"domain":["Conventional","Wearable"],"range":["#ff0000","#0000ff"]},"legend":{"orient":"none","legendX":819,"legendY":-71}},"strokeDash":{"field":"s","type":"nominal","title":null,"scale":{"domain":["Conventional","Wearable"],"range":[[1,0],[10,6]]},"legend":{"orient":"none","legendX":819,"legendY":-71}}}}
]},
{"width":268,"height":100,"data":{"name":"kneeT"},
"encoding":{"x":{"field":"phase","type":"quantitative","scale":{"domain":[0,100],"nice":false},"axis":{"values":[0,20,40,60,80,100],"tickCount":20,"title":null,"labelExpr":"replace(format(datum.value, '~g'), '-', '−')"}}},
"layer":[
{"transform":[{"filter":"datum.s === 'Conventional'"}],"mark":{"type":"area","fill":"#ff0000","fillOpacity":0.5,"interpolate":"monotone","clip":true},"encoding":{"y":{"field":"lo","type":"quantitative","scale":{"domain":[-1.23,2.07],"nice":false,"zero":false},"axis":{"values":[-1,0,1,2],"tickCount":20,"title":null,"labelExpr":"replace(format(datum.value, '~g'), '-', '−')"}},"y2":{"field":"hi"}}},
{"transform":[{"filter":"datum.s === 'Conventional'"}],"mark":{"type":"line","strokeWidth":3,"interpolate":"monotone","clip":true},"encoding":{"y":{"field":"mean","type":"quantitative"},"color":{"field":"s","type":"nominal","title":null,"scale":{"domain":["Conventional","Wearable"],"range":["#ff0000","#0000ff"]},"legend":{"orient":"none","legendX":819,"legendY":-71}},"strokeDash":{"field":"s","type":"nominal","title":null,"scale":{"domain":["Conventional","Wearable"],"range":[[1,0],[10,6]]},"legend":{"orient":"none","legendX":819,"legendY":-71}}}},
{"transform":[{"filter":"datum.s === 'Wearable'"}],"mark":{"type":"area","fill":"#0000ff","fillOpacity":0.3,"interpolate":"monotone","clip":true},"encoding":{"y":{"field":"lo","type":"quantitative"},"y2":{"field":"hi"}}},
{"transform":[{"filter":"datum.s === 'Wearable'"}],"mark":{"type":"line","strokeWidth":3.5,"interpolate":"monotone","clip":true},"encoding":{"y":{"field":"mean","type":"quantitative"},"color":{"field":"s","type":"nominal","title":null,"scale":{"domain":["Conventional","Wearable"],"range":["#ff0000","#0000ff"]},"legend":{"orient":"none","legendX":819,"legendY":-71}},"strokeDash":{"field":"s","type":"nominal","title":null,"scale":{"domain":["Conventional","Wearable"],"range":[[1,0],[10,6]]},"legend":{"orient":"none","legendX":819,"legendY":-71}}}}
]},
{"width":268,"height":100,"data":{"name":"ankA"},
"encoding":{"x":{"field":"phase","type":"quantitative","scale":{"domain":[0,100],"nice":false},"axis":{"values":[0,20,40,60,80,100],"tickCount":20,"title":"Gait Phase","labelExpr":"replace(format(datum.value, '~g'), '-', '−')"}}},
"layer":[
{"transform":[{"filter":"datum.s === 'Conventional'"}],"mark":{"type":"area","fill":"#ff0000","fillOpacity":0.5,"interpolate":"monotone","clip":true},"encoding":{"y":{"field":"lo","type":"quantitative","scale":{"domain":[-17,30.8],"nice":false,"zero":false},"axis":{"values":[-10,0,10,20,30],"tickCount":20,"title":"Ankle","labelExpr":"replace(format(datum.value, '~g'), '-', '−')"}},"y2":{"field":"hi"}}},
{"transform":[{"filter":"datum.s === 'Conventional'"}],"mark":{"type":"line","strokeWidth":3,"interpolate":"monotone","clip":true},"encoding":{"y":{"field":"mean","type":"quantitative"},"color":{"field":"s","type":"nominal","title":null,"scale":{"domain":["Conventional","Wearable"],"range":["#ff0000","#0000ff"]},"legend":{"orient":"none","legendX":819,"legendY":-71}},"strokeDash":{"field":"s","type":"nominal","title":null,"scale":{"domain":["Conventional","Wearable"],"range":[[1,0],[10,6]]},"legend":{"orient":"none","legendX":819,"legendY":-71}}}},
{"transform":[{"filter":"datum.s === 'Wearable'"}],"mark":{"type":"area","fill":"#0000ff","fillOpacity":0.3,"interpolate":"monotone","clip":true},"encoding":{"y":{"field":"lo","type":"quantitative"},"y2":{"field":"hi"}}},
{"transform":[{"filter":"datum.s === 'Wearable'"}],"mark":{"type":"line","strokeWidth":3.5,"interpolate":"monotone","clip":true},"encoding":{"y":{"field":"mean","type":"quantitative"},"color":{"field":"s","type":"nominal","title":null,"scale":{"domain":["Conventional","Wearable"],"range":["#ff0000","#0000ff"]},"legend":{"orient":"none","legendX":819,"legendY":-71}},"strokeDash":{"field":"s","type":"nominal","title":null,"scale":{"domain":["Conventional","Wearable"],"range":[[1,0],[10,6]]},"legend":{"orient":"none","legendX":819,"legendY":-71}}}}
]},
{"width":268,"height":100,"data":{"name":"copz"},"title":"CoPz (1/W)",
"encoding":{"x":{"field":"phase","type":"quantitative","scale":{"domain":[0,100],"nice":false},"axis":{"values":[0,20,40,60,80,100],"tickCount":20,"title":"Gait Phase","labelExpr":"replace(format(datum.value, '~g'), '-', '−')"}}},
"layer":[
{"transform":[{"filter":"datum.s === 'Conventional'"}],"mark":{"type":"area","fill":"#ff0000","fillOpacity":0.5,"interpolate":"monotone","clip":true},"encoding":{"y":{"field":"lo","type":"quantitative","scale":{"domain":[-0.527,0.122],"nice":false,"zero":false},"axis":{"values":[-0.4,-0.2,0],"tickCount":20,"title":null,"labelExpr":"replace(format(datum.value, '~g'), '-', '−')"}},"y2":{"field":"hi"}}},
{"transform":[{"filter":"datum.s === 'Conventional'"}],"mark":{"type":"line","strokeWidth":3,"interpolate":"monotone","clip":true},"encoding":{"y":{"field":"mean","type":"quantitative"},"color":{"field":"s","type":"nominal","title":null,"scale":{"domain":["Conventional","Wearable"],"range":["#ff0000","#0000ff"]},"legend":{"orient":"none","legendX":819,"legendY":-71}},"strokeDash":{"field":"s","type":"nominal","title":null,"scale":{"domain":["Conventional","Wearable"],"range":[[1,0],[10,6]]},"legend":{"orient":"none","legendX":819,"legendY":-71}}}},
{"transform":[{"filter":"datum.s === 'Wearable'"}],"mark":{"type":"area","fill":"#0000ff","fillOpacity":0.3,"interpolate":"monotone","clip":true},"encoding":{"y":{"field":"lo","type":"quantitative"},"y2":{"field":"hi"}}},
{"transform":[{"filter":"datum.s === 'Wearable'"}],"mark":{"type":"line","strokeWidth":3.5,"interpolate":"monotone","clip":true},"encoding":{"y":{"field":"mean","type":"quantitative"},"color":{"field":"s","type":"nominal","title":null,"scale":{"domain":["Conventional","Wearable"],"range":["#ff0000","#0000ff"]},"legend":{"orient":"none","legendX":819,"legendY":-71}},"strokeDash":{"field":"s","type":"nominal","title":null,"scale":{"domain":["Conventional","Wearable"],"range":[[1,0],[10,6]]},"legend":{"orient":"none","legendX":819,"legendY":-71}}}}
]},
{"width":268,"height":100,"data":{"name":"ankT"},
"encoding":{"x":{"field":"phase","type":"quantitative","scale":{"domain":[0,100],"nice":false},"axis":{"values":[0,20,40,60,80,100],"tickCount":20,"title":"Gait Phase","labelExpr":"replace(format(datum.value, '~g'), '-', '−')"}}},
"layer":[
{"transform":[{"filter":"datum.s === 'Conventional'"}],"mark":{"type":"area","fill":"#ff0000","fillOpacity":0.5,"interpolate":"monotone","clip":true},"encoding":{"y":{"field":"lo","type":"quantitative","scale":{"domain":[-2.28,0.21],"nice":false,"zero":false},"axis":{"values":[-2,-1,0],"tickCount":20,"title":null,"labelExpr":"replace(format(datum.value, '~g'), '-', '−')"}},"y2":{"field":"hi"}}},
{"transform":[{"filter":"datum.s === 'Conventional'"}],"mark":{"type":"line","strokeWidth":3,"interpolate":"monotone","clip":true},"encoding":{"y":{"field":"mean","type":"quantitative"},"color":{"field":"s","type":"nominal","title":null,"scale":{"domain":["Conventional","Wearable"],"range":["#ff0000","#0000ff"]},"legend":{"orient":"none","legendX":819,"legendY":-71}},"strokeDash":{"field":"s","type":"nominal","title":null,"scale":{"domain":["Conventional","Wearable"],"range":[[1,0],[10,6]]},"legend":{"orient":"none","legendX":819,"legendY":-71}}}},
{"transform":[{"filter":"datum.s === 'Wearable'"}],"mark":{"type":"area","fill":"#0000ff","fillOpacity":0.3,"interpolate":"monotone","clip":true},"encoding":{"y":{"field":"lo","type":"quantitative"},"y2":{"field":"hi"}}},
{"transform":[{"filter":"datum.s === 'Wearable'"}],"mark":{"type":"line","strokeWidth":3.5,"interpolate":"monotone","clip":true},"encoding":{"y":{"field":"mean","type":"quantitative"},"color":{"field":"s","type":"nominal","title":null,"scale":{"domain":["Conventional","Wearable"],"range":["#ff0000","#0000ff"]},"legend":{"orient":"none","legendX":819,"legendY":-71}},"strokeDash":{"field":"s","type":"nominal","title":null,"scale":{"domain":["Conventional","Wearable"],"range":[[1,0],[10,6]]},"legend":{"orient":"none","legendX":819,"legendY":-71}}}}
]}
]}
],
"config":{
"font":"Liberation Sans",
"view":{"stroke":null},
"axis":{"grid":false,"labelFlush":false,"labelOverlap":false,"domainColor":"#262626","tickColor":"#262626","labelColor":"#262626","titleColor":"#262626","labelFontSize":15,"titleFontSize":16.5,"titleFontWeight":"normal","tickSize":-3,"domainWidth":1,"tickWidth":1,"labelFont":"Liberation Sans","titleFont":"Liberation Sans"},
"axisX":{"labelPadding":9.5,"titlePadding":5},
"axisY":{"labelPadding":7.5,"titlePadding":2},
"title":{"fontSize":17,"fontWeight":"bold","color":"#000000","frame":"group","anchor":"middle","offset":5,"baseline":"alphabetic","font":"Liberation Sans"},
"legend":{"symbolType":"M-1,0L7,0","symbolSize":196,"symbolStrokeWidth":3,"labelOffset":45,"labelFontSize":14,"labelFont":"Liberation Sans","labelColor":"#000000","padding":5,"rowPadding":4,"strokeColor":"#262626","fillColor":"#ffffff"}
}
}
